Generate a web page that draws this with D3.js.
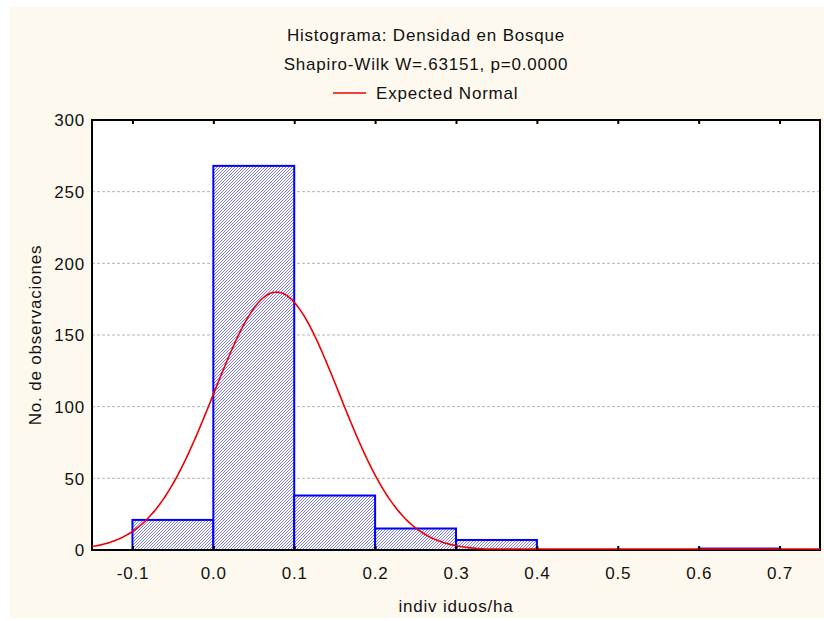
<!DOCTYPE html>
<html>
<head>
<meta charset="utf-8">
<script src="https://cdn.jsdelivr.net/npm/d3@7"></script>
<style>
  html, body { margin: 0; padding: 0; background: #fff; }
  svg { display: block; font-family: "Liberation Sans", Arial, sans-serif; }
  svg text { letter-spacing: 0.8px; }
</style>
</head>
<body>
<div id="chart"></div>
<script>
// histogram bins (lower edge) and counts
const binStarts = [-0.1, 0.0, 0.1, 0.2, 0.3, 0.4, 0.5, 0.6];
const binWidth = 0.1;
const counts = [21, 268, 38, 15, 7, 0, 0, 1];

// expected normal parameters
const normalMean = 0.078;
const normalSd = 0.0776;
const nObs = 350;

const xTicks = [-0.1, 0.0, 0.1, 0.2, 0.3, 0.4, 0.5, 0.6, 0.7];
const yTicks = [0, 50, 100, 150, 200, 250, 300];

const W = 824, H = 621;
const plot = { left: 92, top: 120, right: 820, bottom: 550 };
const fontSize = '17px';

const svg = d3.select('#chart').append('svg')
    .attr('width', W)
    .attr('height', H);

// cream panel
svg.append('rect')
    .attr('x', 10).attr('y', 7)
    .attr('width', W - 10).attr('height', 611)
    .attr('fill', '#fef9ef');

const defs = svg.append('defs');
const pat = defs.append('pattern')
    .attr('id', 'hatch')
    .attr('patternUnits', 'userSpaceOnUse')
    .attr('width', 3).attr('height', 3);
pat.append('rect').attr('width', 3).attr('height', 3).attr('fill', '#ffffff');
pat.append('path')
    .attr('d', 'M-1,1 L1,-1 M0,3 L3,0 M2,4 L4,2')
    .attr('stroke', '#6464f2')
    .attr('stroke-width', 0.85);

defs.append('clipPath').attr('id', 'clip')
    .append('rect')
    .attr('x', plot.left).attr('y', plot.top - 5)
    .attr('width', plot.right - plot.left).attr('height', plot.bottom - plot.top + 5);

const x = d3.scaleLinear().domain([-0.15, 0.75]).range([plot.left, plot.right]);
const y = d3.scaleLinear().domain([0, 300]).range([plot.bottom, plot.top]);

// plot background
svg.append('rect')
    .attr('x', plot.left).attr('y', plot.top)
    .attr('width', plot.right - plot.left).attr('height', plot.bottom - plot.top)
    .attr('fill', '#fff');

// gridlines
svg.append('g')
    .selectAll('line')
    .data(yTicks.filter(d => d > 0 && d < 300))
    .join('line')
    .attr('x1', plot.left).attr('x2', plot.right)
    .attr('y1', d => y(d)).attr('y2', d => y(d))
    .attr('stroke', '#b4b4b4')
    .attr('stroke-width', 1)
    .attr('stroke-dasharray', '3,2');

// bars
const bars = binStarts.map((s, i) => ({ x0: s, x1: s + binWidth, n: counts[i] }));
svg.append('g')
    .selectAll('rect')
    .data(bars.filter(d => d.n > 0))
    .join('rect')
    .attr('x', d => x(d.x0))
    .attr('y', d => y(d.n))
    .attr('width', d => x(d.x1) - x(d.x0))
    .attr('height', d => y(0) - y(d.n))
    .attr('fill', 'url(#hatch)')
    .attr('stroke', '#0000ff')
    .attr('stroke-width', 2);

// frame
svg.append('rect')
    .attr('x', plot.left).attr('y', plot.top)
    .attr('width', plot.right - plot.left).attr('height', plot.bottom - plot.top)
    .attr('fill', 'none')
    .attr('stroke', '#000')
    .attr('stroke-width', 2);

// expected normal curve (drawn over the frame so the tail shows on the axis)
const dens = v => nObs * binWidth / (normalSd * Math.sqrt(2 * Math.PI)) *
    Math.exp(-Math.pow(v - normalMean, 2) / (2 * normalSd * normalSd));
const curvePts = d3.range(-0.15, 0.7501, 0.002).map(v => [v, dens(v)]);
svg.append('path')
    .datum(curvePts)
    .attr('clip-path', 'url(#clip)')
    .attr('fill', 'none')
    .attr('stroke', '#ee0000')
    .attr('stroke-width', 1.6)
    .attr('d', d3.line().x(d => x(d[0])).y(d => Math.min(y(d[1]), plot.bottom - 1)));

// x axis (bottom, inward ticks) and top ticks
const xAxis = svg.append('g')
    .attr('transform', `translate(0,${plot.bottom})`)
    .call(d3.axisBottom(x).tickValues(xTicks).tickFormat(d => d.toFixed(1))
        .tickSizeInner(-4).tickSizeOuter(0).tickPadding(17));
const xTop = svg.append('g')
    .attr('transform', `translate(0,${plot.top})`)
    .call(d3.axisTop(x).tickValues(xTicks).tickFormat('')
        .tickSizeInner(-4).tickSizeOuter(0));

const yAxis = svg.append('g')
    .attr('transform', `translate(${plot.left},0)`)
    .call(d3.axisLeft(y).tickValues(yTicks).tickFormat(d => String(d))
        .tickSizeInner(0).tickSizeOuter(0).tickPadding(7));

[xAxis, xTop, yAxis].forEach(g => {
    g.select('.domain').remove();
    g.selectAll('line').attr('stroke', '#000').attr('stroke-width', 2);
    g.selectAll('text')
        .attr('fill', '#111')
        .style('font-size', fontSize)
        .style('font-family', '"Liberation Sans", Arial, sans-serif');
});
yAxis.selectAll('text').attr('dy', '0.35em');

// titles
svg.append('text')
    .attr('x', 426).attr('y', 41)
    .attr('text-anchor', 'middle')
    .style('font-size', fontSize)
    .attr('fill', '#111')
    .text('Histograma: Densidad en Bosque');
svg.append('text')
    .attr('x', 426).attr('y', 70)
    .attr('text-anchor', 'middle')
    .style('font-size', fontSize)
    .attr('fill', '#111')
    .text('Shapiro-Wilk W=.63151, p=0.0000');

// legend
svg.append('line')
    .attr('x1', 333).attr('x2', 366)
    .attr('y1', 93).attr('y2', 93)
    .attr('stroke', '#ee0000').attr('stroke-width', 1.6);
svg.append('text')
    .attr('x', 376).attr('y', 99)
    .style('font-size', fontSize)
    .attr('fill', '#111')
    .text('Expected Normal');

// axis titles
svg.append('text')
    .attr('x', 456).attr('y', 612)
    .attr('text-anchor', 'middle')
    .style('font-size', fontSize)
    .attr('fill', '#111')
    .text('indiv iduos/ha');
svg.append('text')
    .attr('transform', 'translate(41,335) rotate(-90)')
    .attr('text-anchor', 'middle')
    .style('font-size', fontSize)
    .attr('fill', '#111')
    .text('No. de observaciones');
</script>
</body>
</html>
